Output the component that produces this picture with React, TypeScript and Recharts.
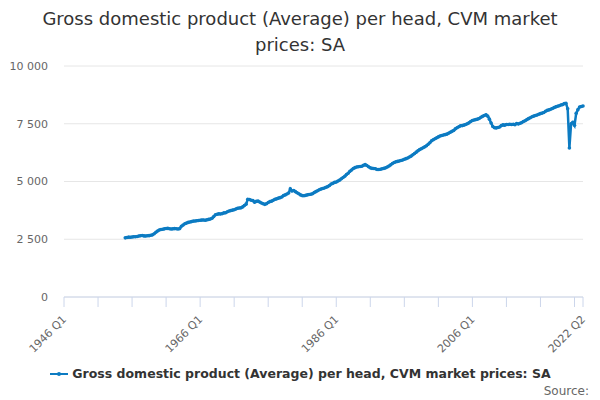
import { LineChart, Line, XAxis, YAxis, CartesianGrid } from 'recharts';

// quarterly series, 1955 Q1 .. 2022 Q2 (earlier quarters have no data)
const firstYear = 1946;
const lastYear = 2022;
const lastQuarter = 2;
const dataStart = '1955 Q1';

const values = [
  2560, 2575, 2590, 2585, 2600, 2610, 2605, 2620, 2640, 2650, 2660, 2645,
  2640, 2650, 2655, 2670, 2690, 2740, 2800, 2860, 2900, 2920, 2935, 2950,
  2965, 2970, 2955, 2945, 2950, 2960, 2955, 2945, 2960, 3060, 3120, 3170,
  3200, 3230, 3245, 3265, 3285, 3290, 3300, 3310, 3320, 3330, 3335, 3320,
  3340, 3360, 3375, 3410, 3480, 3560, 3580, 3600, 3590, 3610, 3640, 3650,
  3690, 3720, 3740, 3760, 3780, 3810, 3840, 3850, 3860, 3900, 3960, 4020,
  4230, 4220, 4190, 4180, 4100, 4140, 4150, 4110, 4070, 4040, 4010, 4040,
  4090, 4130, 4150, 4190, 4230, 4250, 4280, 4300, 4330, 4390, 4420, 4460,
  4500, 4680, 4590, 4610, 4560, 4510, 4470, 4420, 4390, 4380, 4400, 4420,
  4440, 4450, 4470, 4520, 4560, 4600, 4640, 4670, 4700, 4720, 4750, 4780,
  4830, 4890, 4920, 4960, 4980, 5020, 5060, 5120, 5170, 5230, 5300, 5360,
  5440, 5500, 5560, 5600, 5630, 5640, 5650, 5660, 5700, 5730, 5690, 5640,
  5590, 5570, 5560, 5550, 5520, 5520, 5530, 5550, 5570, 5590, 5630, 5670,
  5720, 5780, 5820, 5850, 5870, 5890, 5910, 5930, 5960, 5990, 6020, 6060,
  6100, 6160, 6210, 6270, 6330, 6380, 6420, 6460, 6500, 6550, 6610, 6680,
  6760, 6810, 6850, 6890, 6930, 6970, 6990, 7010, 7030, 7050, 7090, 7130,
  7170, 7210, 7280, 7330, 7370, 7410, 7420, 7440, 7470, 7500, 7540, 7600,
  7640, 7660, 7680, 7700, 7730, 7780, 7820, 7860, 7890, 7830, 7700, 7530,
  7380, 7330, 7320, 7340, 7360, 7420, 7450, 7440, 7470, 7470, 7480, 7470,
  7480, 7460, 7510, 7490, 7520, 7550, 7600, 7630, 7680, 7720, 7760, 7800,
  7830, 7860, 7880, 7910, 7940, 7960, 7990, 8040, 8080, 8100, 8130, 8160,
  8200, 8230, 8260, 8280, 8310, 8330, 8370, 8380, 8150, 6450, 7500, 7560,
  7430, 7950, 8110, 8220, 8250, 8270,
];

const yTicks = [0, 2500, 5000, 7500, 10000];
const xLabels = ['1946 Q1', '1966 Q1', '1986 Q1', '2006 Q1', '2022 Q2'];

const seriesName = 'Gross domestic product (Average) per head, CVM market prices: SA';
const color = '#0c7bc2';

const quarters: string[] = [];
for (let y = firstYear; y <= lastYear; y++) {
  for (let q = 1; q <= 4; q++) {
    if (y === lastYear && q > lastQuarter) break;
    quarters.push(`${y} Q${q}`);
  }
}
const startIdx = quarters.indexOf(dataStart);
const data = quarters.map((name, i) => ({
  name,
  value: i >= startIdx ? values[i - startIdx] : null,
}));

// tick marks every 5 years plus the last quarter
const xTicks = quarters.filter((_, i) => i % 20 === 0).concat(quarters[quarters.length - 1]);

const fmt = (v: number) => String(v).replace(/\B(?=(\d{3})+(?!\d))/g, ' ');

const XTick = (props: any) => {
  const { x, y, payload } = props;
  if (!xLabels.includes(payload.value)) return null;
  const tx = x + 3;
  const ty = y + 11;
  return (
    <text
      x={tx}
      y={ty}
      transform={`rotate(-45 ${tx} ${ty})`}
      textAnchor="end"
      fill="#666666"
      fontSize={11}
      fontFamily="DejaVu Sans"
    >
      {payload.value}
    </text>
  );
};

export default function App() {
  return (
    <div style={{ position: 'fixed', left: 0, top: 0, width: 600, height: 400, background: '#fff', fontFamily: 'DejaVu Sans' }}>
      <div
        style={{
          position: 'absolute',
          top: 6,
          left: 0,
          width: 600,
          textAlign: 'center',
          fontSize: 18,
          lineHeight: '26px',
          color: '#333333',
        }}
      >
        Gross domestic product (Average) per head, CVM market
        <br />
        prices: SA
      </div>
      <LineChart
        width={600}
        height={400}
        data={data}
        margin={{ top: 66, right: 17, left: 0, bottom: 46 }}
      >
        <CartesianGrid vertical={false} stroke="#e6e6e6" />
        <XAxis
          dataKey="name"
          ticks={xTicks}
          interval={0}
          tick={<XTick />}
          tickSize={10}
          tickLine={{ stroke: '#ccd6eb' }}
          axisLine={{ stroke: '#ccd6eb' }}
          height={57}
        />
        <YAxis
          width={64}
          domain={[0, 10000]}
          ticks={yTicks}
          tickFormatter={fmt}
          axisLine={false}
          tickLine={false}
          tick={{ fill: '#666666', fontSize: 11, fontFamily: 'DejaVu Sans' }}
          tickMargin={10}
        />
        <Line
          type="linear"
          dataKey="value"
          name={seriesName}
          stroke={color}
          strokeWidth={2.5}
          dot={{ r: 1.8, fill: color, stroke: color, strokeWidth: 0 }}
          isAnimationActive={false}
          connectNulls={false}
        />
      </LineChart>
      <div
        style={{
          position: 'absolute',
          top: 366,
          left: 0,
          width: 600,
          display: 'flex',
          justifyContent: 'center',
          alignItems: 'center',
        }}
      >
        <svg width={20} height={10} style={{ marginRight: 3 }}>
          <line x1={1} y1={5} x2={19} y2={5} stroke={color} strokeWidth={2} />
          <circle cx={10} cy={5} r={2} fill={color} />
        </svg>
        <span style={{ fontWeight: 'bold', fontSize: 12.5, color: '#333333' }}>{seriesName}</span>
      </div>
      <div style={{ position: 'absolute', right: 11, top: 384, fontSize: 12, color: '#666666' }}>Source:</div>
    </div>
  );
}
